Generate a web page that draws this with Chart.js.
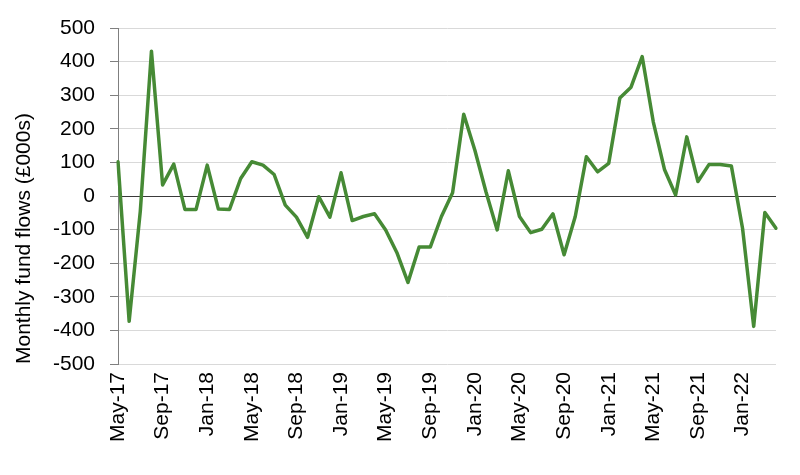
<!DOCTYPE html>
<html>
<head>
<meta charset="utf-8">
<script src="https://cdn.jsdelivr.net/npm/chart.js@4/dist/chart.umd.min.js"></script>
<style>
html,body{margin:0;padding:0;background:#fff;}
#wrap{width:800px;height:475px;}
</style>
</head>
<body>
<div id="wrap"><canvas id="c" width="800" height="475"></canvas></div>
<script>
const months = [
  "May-17","Jun-17","Jul-17","Aug-17","Sep-17","Oct-17","Nov-17","Dec-17",
  "Jan-18","Feb-18","Mar-18","Apr-18","May-18","Jun-18","Jul-18","Aug-18",
  "Sep-18","Oct-18","Nov-18","Dec-18","Jan-19","Feb-19","Mar-19","Apr-19",
  "May-19","Jun-19","Jul-19","Aug-19","Sep-19","Oct-19","Nov-19","Dec-19",
  "Jan-20","Feb-20","Mar-20","Apr-20","May-20","Jun-20","Jul-20","Aug-20",
  "Sep-20","Oct-20","Nov-20","Dec-20","Jan-21","Feb-21","Mar-21","Apr-21",
  "May-21","Jun-21","Jul-21","Aug-21","Sep-21","Oct-21","Nov-21","Dec-21",
  "Jan-22","Feb-22","Mar-22","Apr-22"
];
const fundFlows = [
  102, -373, -45, 431, 33, 95, -40, -40, 92, -39,
  -40, 52, 102, 92, 64, -27, -63, -123, -2, -63,
  69, -73, -61, -53, -101, -168, -257, -152, -152, -61,
  10, 243, 136, 12, -101, 75, -61, -109, -99, -53,
  -175, -61, 117, 72, 97, 292, 324, 415, 220, 79,
  3, 176, 43, 94, 94, 89, -96, -388, -49, -96
];
const yAxisTitle = "Monthly fund flows (£000s)";
const yMin = -500, yMax = 500, yStep = 100;

const FONT = "'Liberation Sans', Arial, sans-serif";

new Chart(document.getElementById('c'), {
  type: 'line',
  data: {
    labels: months,
    datasets: [{
      data: fundFlows,
      borderColor: '#468a35',
      backgroundColor: '#468a35',
      borderWidth: 3.5,
      pointRadius: 0,
      tension: 0,
      borderJoinStyle: 'round',
      borderCapStyle: 'round',
      fill: false
    }]
  },
  options: {
    responsive: false,
    animation: false,
    devicePixelRatio: 1,
    layout: { padding: { left: 8, right: 24, top: 28, bottom: 0 } },
    plugins: { legend: { display: false }, tooltip: { enabled: false } },
    scales: {
      x: {
        offset: false,
        grid: { display: false, drawTicks: false },
        border: { display: false },
        ticks: {
          autoSkip: false,
          maxRotation: 90,
          minRotation: 90,
          padding: 8,
          color: '#000',
          font: { family: FONT, size: 21 },
          callback: function(v, i) { return i % 4 === 0 ? months[i] : ''; }
        },
        afterFit: function(s) { s.height = 111; s.paddingLeft = 0; s.paddingRight = 0; }
      },
      y: {
        min: yMin,
        max: yMax,
        grid: {
          color: function(ctx) { return ctx.tick && ctx.tick.value === 0 ? '#3a3a3a' : '#d9d9d9'; },
          lineWidth: 1,
          tickLength: 8,
          tickColor: '#7f7f7f'
        },
        border: { display: true, color: '#7f7f7f', width: 1 },
        ticks: {
          stepSize: yStep,
          padding: 15,
          color: '#000',
          font: { family: FONT, size: 21 }
        },
        title: {
          display: true,
          text: yAxisTitle,
          align: 'start',
          color: '#000',
          font: { family: FONT, size: 21 },
          padding: { top: 4, bottom: 4 }
        },
        afterFit: function(s) { s.width = 110; s.paddingTop = 0; s.paddingBottom = 0; }
      }
    }
  }
});
</script>
</body>
</html>
